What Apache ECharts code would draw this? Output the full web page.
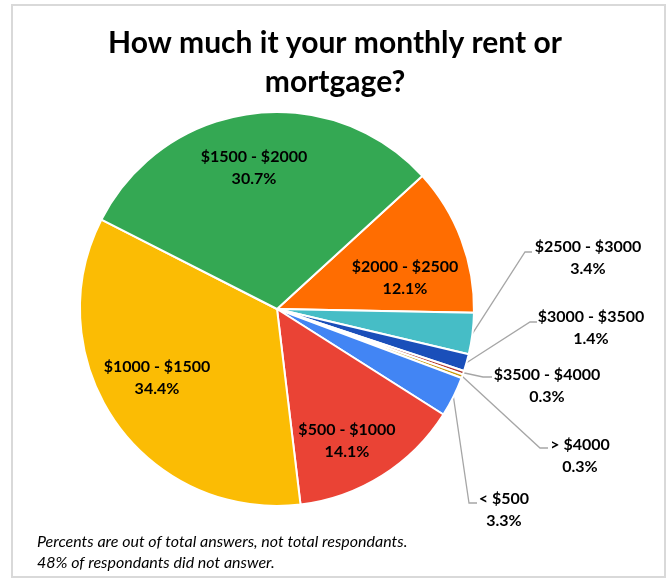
<!DOCTYPE html>
<html lang="en">
<head>
    <meta charset="UTF-8">
    <title>Monthly rent or mortgage</title>
    <script src="https://cdn.jsdelivr.net/npm/echarts@6/dist/echarts.min.js"></script>
    <style>
        body { margin: 0; background: #fff; }
        #main { width: 670px; height: 581px; }
    </style>
</head>
<body>
<div id="main"></div>
<script>
    // data, in pie order (clockwise from the orange slice)
    var categories = ['$2000 - $2500', '$2500 - $3000', '$3000 - $3500', '$3500 - $4000', '> $4000',
        '< $500', '$500 - $1000', '$1000 - $1500', '$1500 - $2000'];
    var percents = [12.1, 3.4, 1.4, 0.3, 0.3, 3.3, 14.1, 34.4, 30.7];
    var colors = ['#FF6D01', '#46BDC6', '#1A4FBA', '#B3362C', '#C99A08',
        '#4285F4', '#EA4335', '#FBBC04', '#34A853'];
    var insideLabels = [true, false, false, false, false, false, true, true, true];

    // label placement (block centres) and leader line bends
    var cx = 277, cy = 309, R = 197, startAngle = 42.5;
    var labelPos = [[405, 278], [588, 258], [591, 328], [547, 386], [580, 456],
        [504, 510], [347, 441], [157, 378], [254, 168]];
    var bends = [null, [[525, 252], [532, 252]], [[530, 322], [537, 322]], [[483, 377], [492, 377]],
        [[540, 448], [548, 448]], [[469, 503], [477, 503]], null, null, null];

    var total = percents.reduce(function (a, b) { return a + b; }, 0);
    function edgePoint(i) {
        var before = 0;
        for (var k = 0; k < i; k++) before += percents[k];
        var mid = startAngle - (before + percents[i] / 2) / total * 360;
        var rad = mid * Math.PI / 180;
        return [cx + R * Math.cos(rad), cy - R * Math.sin(rad)];
    }

    var data = categories.map(function (name, i) {
        var item = { name: name, value: percents[i], itemStyle: { color: colors[i] } };
        if (insideLabels[i]) {
            item.label = { position: 'inside' };
            item.labelLine = { show: false };
        }
        return item;
    });

    var chart = echarts.init(document.getElementById('main'));
    var option = {
        backgroundColor: '#fff',
        animation: false,
        title: {
            text: 'How much it your monthly rent or\nmortgage?',
            left: 'center',
            top: 19,
            textStyle: {
                fontFamily: 'Lato',
                fontSize: 30,
                fontWeight: 'bold',
                color: '#000',
                lineHeight: 39
            }
        },
        graphic: [
            {
                type: 'rect',
                shape: { x: 12, y: 5, width: 653, height: 572 },
                style: { fill: 'none', stroke: '#d9d9d9', lineWidth: 2 },
                silent: true
            },
            {
                type: 'text',
                left: 37,
                top: 531,
                style: {
                    text: 'Percents are out of total answers, not total respondants.\n48% of respondants did not answer.',
                    fontFamily: 'Lato',
                    fontStyle: 'italic',
                    fontSize: 16,
                    lineHeight: 21,
                    fill: '#000'
                }
            }
        ],
        series: [{
            type: 'pie',
            center: [cx, cy],
            radius: [0, R],
            startAngle: startAngle,
            clockwise: true,
            itemStyle: { borderColor: '#fff', borderWidth: 2 },
            label: {
                show: true,
                position: 'outside',
                formatter: function (p) { return p.name + '\n' + p.value.toFixed(1) + '%'; },
                fontFamily: 'Lato',
                fontSize: 16,
                fontWeight: 'bold',
                color: '#000',
                lineHeight: 22,
                align: 'center'
            },
            labelLine: {
                show: true,
                lineStyle: { color: '#a6a6a6', width: 1.3 }
            },
            labelLayout: function (p) {
                var i = p.dataIndex;
                var out = { x: labelPos[i][0], y: labelPos[i][1], align: 'center', verticalAlign: 'middle' };
                if (bends[i]) {
                    out.labelLinePoints = [edgePoint(i), bends[i][0], bends[i][1]];
                }
                return out;
            },
            data: data
        }]
    };
    chart.setOption(option);
</script>
</body>
</html>
